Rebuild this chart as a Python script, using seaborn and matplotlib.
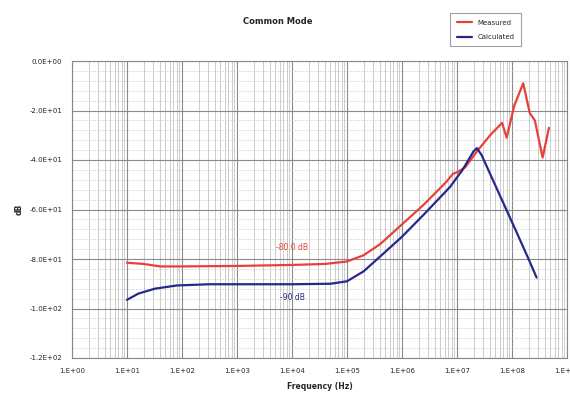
import numpy as np
import pandas as pd
import seaborn as sns
import matplotlib.pyplot as plt
from matplotlib.ticker import LogLocator, MultipleLocator, FuncFormatter, NullFormatter

# Measured common-mode response
measured_freq = [10, 20, 40, 100, 1e3, 1e4, 4e4, 1e5, 2e5, 4e5, 1e6, 2.5e6, 6.3e6,
                 8.5e6, 1e7, 1.4e7, 2.4e7, 4e7, 6.6e7, 8e7, 1.1e8, 1.6e8, 2.1e8,
                 2.6e8, 3.6e8, 4.7e8]
measured_db = [-81.5, -82.0, -83.0, -83.0, -82.8, -82.4, -82.0, -81.0, -78.5, -74.0,
               -66.0, -58.0, -49.0, -45.5, -45.0, -43.0, -36.0, -30.0, -25.0, -31.0,
               -18.0, -9.0, -21.0, -24.0, -39.0, -27.0]

# Calculated common-mode response
calc_freq = [10, 16, 32, 80, 316, 1e3, 1e4, 5e4, 1e5, 2e5, 4e5, 1e6, 2.5e6, 7.4e6,
             1.26e7, 2e7, 2.3e7, 2.8e7, 5.4e7, 1.23e8, 2e8, 2.8e8]
calc_db = [-96.5, -94.0, -92.0, -90.7, -90.2, -90.2, -90.2, -90.0, -89.0, -85.0,
           -79.0, -71.0, -62.0, -51.0, -44.0, -36.5, -35.2, -38.0, -52.0, -69.5,
           -80.0, -87.5]

series_names = ["Measured", "Calculated"]
series_colors = ["#e8413a", "#27288a"]
note_texts = ["-80.0 dB", "-90 dB"]

df = pd.concat([
    pd.DataFrame({"Frequency": measured_freq, "dB": measured_db, "Series": series_names[0]}),
    pd.DataFrame({"Frequency": calc_freq, "dB": calc_db, "Series": series_names[1]}),
], ignore_index=True)

sns.set_style("white")
plt.rcParams["font.family"] = ["DejaVu Sans"]

fig = plt.figure(figsize=(5.70, 3.95), dpi=100)
ax = fig.add_axes([72 / 570, 1 - 358 / 395, 495 / 570, 297 / 395])

sns.lineplot(data=df, x="Frequency", y="dB", hue="Series", palette=series_colors,
             hue_order=series_names, sort=False, estimator=None, linewidth=1.6,
             ax=ax, zorder=5)

ax.set_xscale("log")
ax.set_xlim(1, 1e9)
ax.set_ylim(-120, 0)

ax.xaxis.set_major_locator(LogLocator(base=10, numticks=20))
ax.xaxis.set_minor_locator(LogLocator(base=10, subs=np.arange(2, 10), numticks=200))
ax.xaxis.set_minor_formatter(NullFormatter())
ax.xaxis.set_major_formatter(FuncFormatter(lambda v, p: "1.E+%02d" % int(round(np.log10(v)))))
ax.yaxis.set_major_locator(MultipleLocator(20))
ax.yaxis.set_minor_locator(MultipleLocator(4))
ax.yaxis.set_major_formatter(FuncFormatter(lambda v, p: ("%.1E" % v).replace("E+0", "E+0")))

ax.grid(which="major", axis="both", color="#8a8a8a", linewidth=0.8)
ax.grid(which="minor", axis="x", color="#c4c4c4", linewidth=0.6)
ax.grid(which="minor", axis="y", color="#c4c4c4", linewidth=0.5, linestyle=(0, (2, 2)))
ax.set_axisbelow(True)

for s in ax.spines.values():
    s.set_color("#888888")
    s.set_linewidth(0.8)

ax.tick_params(axis="both", which="major", labelsize=5, length=3, color="#888888",
               direction="out", pad=4)
ax.tick_params(axis="both", which="minor", length=0)

ax.set_xlabel("Frequency (Hz)", fontsize=5.5, fontweight="bold", labelpad=6)
ax.set_ylabel("dB", fontsize=5.5, fontweight="bold", labelpad=4)
fig.text(278 / 570, 1 - 22 / 395, "Common Mode", fontsize=6, fontweight="bold",
         ha="center", va="center")

ax.text(1.0e4, -75.5, note_texts[0], color=series_colors[0], fontsize=5.5,
        ha="center", va="center")
ax.text(1.0e4, -95.5, note_texts[1], color=series_colors[1], fontsize=5.5,
        ha="center", va="center")

leg = ax.legend(loc="upper left", bbox_to_anchor=(447 / 570, 1 - 10 / 395),
                bbox_transform=fig.transFigure, fontsize=5, frameon=True,
                fancybox=False, edgecolor="#888888", handlelength=2.2,
                borderpad=0.9, labelspacing=1.2, title=None)
leg.get_frame().set_linewidth(0.8)
for line in leg.get_lines():
    line.set_linewidth(1.6)

fig.savefig("out.png", dpi=100)
